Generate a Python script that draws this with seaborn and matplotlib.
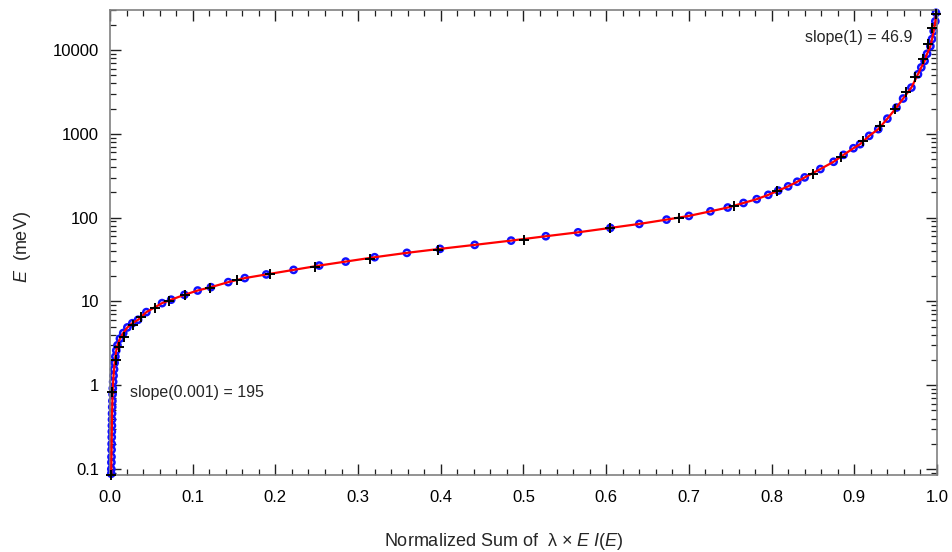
import numpy as np
import pandas as pd
import matplotlib
matplotlib.use("Agg")
import matplotlib.pyplot as plt
import matplotlib.ticker as mticker
import seaborn as sns

# ---- data ----
blue_x = [0.0015, 0.0016, 0.0017, 0.0018, 0.0019, 0.002, 0.0021, 0.0022, 0.0023, 0.0024,
          0.0025, 0.0027, 0.0029, 0.0031, 0.0034, 0.0038, 0.0043, 0.0049, 0.0056, 0.0065,
          0.0076, 0.009, 0.012, 0.016, 0.021, 0.027,
          0.034, 0.044, 0.063, 0.074, 0.090, 0.106, 0.122, 0.143, 0.163, 0.189,
          0.222, 0.253, 0.285, 0.320, 0.359, 0.399, 0.441, 0.485, 0.527, 0.566,
          0.605, 0.640, 0.673, 0.700, 0.726, 0.747, 0.766, 0.782, 0.796, 0.808,
          0.820, 0.831, 0.840, 0.859, 0.875, 0.887, 0.899, 0.907, 0.918, 0.929,
          0.940, 0.951, 0.959, 0.969, 0.977, 0.981, 0.985, 0.988, 0.992, 0.994,
          0.996, 0.998, 0.9988]
blue_E = [0.088, 0.10, 0.12, 0.14, 0.17, 0.20, 0.24, 0.28, 0.33, 0.39,
          0.46, 0.55, 0.65, 0.78, 0.92, 1.1, 1.3, 1.55, 1.85, 2.2,
          2.6, 3.0, 3.6, 4.2, 4.9, 5.5,
          6.05, 7.46, 9.55, 10.5, 12.0, 13.5, 14.8, 17.0, 19.0, 21.0,
          23.8, 26.8, 29.9, 33.7, 38.0, 42.4, 47.3, 53.2, 60.0, 66.8,
          75.4, 84.1, 94.7, 104.8, 118.9, 132, 149.6, 166, 187, 210,
          236, 268, 302, 380, 464, 561, 673, 752, 946, 1137,
          1517, 2057, 2636, 3560, 5130, 6200, 7400, 9000, 11100, 13500,
          16800, 22000, 27800]

black_x = [0.0015, 0.003, 0.007, 0.011, 0.017, 0.028, 0.038, 0.054, 0.071, 0.091,
           0.121, 0.154, 0.194, 0.248, 0.314, 0.397, 0.501, 0.605, 0.688, 0.754,
           0.807, 0.850, 0.884, 0.911, 0.931, 0.949, 0.963, 0.973, 0.983, 0.989,
           0.994, 0.9988]
black_E = [0.085, 0.83, 2.0, 2.9, 3.8, 5.2, 6.5, 8.3, 10.0, 11.8,
           14.5, 17.8, 21.4, 26.1, 32.2, 41.6, 54.3, 74.6, 99.6, 138,
           210, 331, 523, 822, 1245, 1960, 3190, 4770, 7770, 11700,
           18500, 27000]

x_ticks = [0.0, 0.1, 0.2, 0.3, 0.4, 0.5, 0.6, 0.7, 0.8, 0.9, 1.0]
y_ticks = [0.1, 1, 10, 100, 1000, 10000]
y_tick_labels = ["0.1", "1", "10", "100", "1000", "10000"]

blue = pd.DataFrame({"x": blue_x, "E": blue_E})
black = pd.DataFrame({"x": black_x, "E": black_E})

sns.set_style("white")
plt.rcParams["font.family"] = ["Liberation Sans", "DejaVu Sans"]
plt.rcParams["mathtext.fontset"] = "custom"
plt.rcParams["mathtext.rm"] = "Liberation Sans"
plt.rcParams["mathtext.it"] = "Liberation Sans:italic"

fig = plt.figure(figsize=(9.53, 5.52), dpi=100)
ax = fig.add_axes([110 / 953, 1 - 475 / 552, 827 / 953, 465 / 552])

sns.scatterplot(data=blue, x="x", y="E", ax=ax, marker="o", s=20,
                facecolor="none", edgecolor="#1010ff", linewidth=1.8, zorder=2,
                clip_on=False)
sns.lineplot(data=blue, x="x", y="E", ax=ax, color="#ff0000", linewidth=1.6,
             sort=True, estimator=None, zorder=3)
sns.scatterplot(data=black, x="x", y="E", ax=ax, marker="+", s=48,
                color="black", linewidth=1.4, zorder=4, clip_on=False)

ax.set_yscale("log")
ax.set_xlim(0, 1.0)
ax.set_ylim(0.085, 30000)

ax.xaxis.set_major_locator(mticker.FixedLocator(x_ticks))
ax.xaxis.set_major_formatter(mticker.FixedFormatter([f"{v:.1f}" for v in x_ticks]))
ax.xaxis.set_minor_locator(mticker.MultipleLocator(0.02))
ax.yaxis.set_major_locator(mticker.FixedLocator(y_ticks))
ax.yaxis.set_major_formatter(mticker.FixedFormatter(y_tick_labels))
ax.yaxis.set_minor_locator(mticker.LogLocator(base=10, subs=np.arange(2, 10)))
ax.yaxis.set_minor_formatter(mticker.NullFormatter())

ax.tick_params(which="both", direction="in", top=True, right=True,
               left=True, bottom=True, colors="#202020", labelcolor="black",
               labelsize=12)
ax.tick_params(which="major", length=8, width=1.0)
ax.tick_params(axis="x", which="major", pad=11)
ax.tick_params(axis="y", which="major", pad=8)
ax.tick_params(which="minor", length=4.5, width=0.9)
for sp in ax.spines.values():
    sp.set_color("#808080")
    sp.set_linewidth(1.2)

ax.set_xlabel("Normalized Sum of  λ × $\\mathit{E\\ I}$($\\mathit{E}$)", fontsize=13)
ax.xaxis.set_label_coords((504 - 110) / 827, -0.12)
ax.set_ylabel(r"$\mathit{E}$  (meV)", fontsize=13)
ax.yaxis.set_label_coords(-0.093, 0.49)

ax.text(0.024, 0.825, "slope(0.001) = 195", fontsize=11.5, va="center", ha="left")
ax.text(0.9706, 14000, "slope(1) = 46.9", fontsize=11.5, va="center", ha="right")

ax.grid(False)
fig.savefig("out.png", dpi=100)
